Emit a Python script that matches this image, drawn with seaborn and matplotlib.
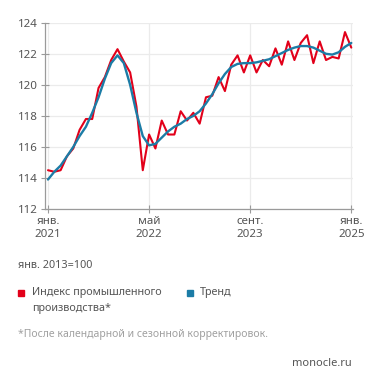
import numpy as np
import pandas as pd
import seaborn as sns
from matplotlib import pyplot as plt
from matplotlib.patches import Rectangle

# Monatsindex Jan 2021 .. Jan 2025 (0 = янв. 2021)
months = list(range(49))
index_vals = [114.5, 114.4, 114.5, 115.4, 115.9, 117.1, 117.8, 117.8, 119.8, 120.5,
              121.6, 122.3, 121.5, 120.8, 118.6, 114.5, 116.8, 115.9, 117.7, 116.8,
              116.8, 118.3, 117.7, 118.2, 117.5, 119.2, 119.3, 120.5, 119.6, 121.3,
              121.9, 120.8, 121.9, 120.8, 121.6, 121.2, 122.35, 121.3, 122.8, 121.6,
              122.7, 123.2, 121.4, 122.8, 121.6, 121.8, 121.7, 123.4, 122.4]
trend_vals = [113.9, 114.4, 114.8, 115.4, 116.0, 116.7, 117.3, 118.2, 119.2, 120.4,
              121.4, 121.9, 121.4, 120.0, 118.2, 116.7, 116.1, 116.2, 116.6, 117.0,
              117.3, 117.5, 117.8, 118.0, 118.3, 118.8, 119.4, 120.1, 120.7, 121.15,
              121.35, 121.4, 121.4, 121.45, 121.55, 121.65, 121.85, 122.05, 122.25, 122.4,
              122.5, 122.5, 122.4, 122.2, 122.0, 121.95, 122.1, 122.45, 122.7]
tick_pos = [0, 16, 32, 48]
tick_labels = ["янв.\n2021", "май\n2022", "сент.\n2023", "янв.\n2025"]
y_ticks = [112, 114, 116, 118, 120, 122, 124]

red = "#e2001a"
blue = "#1c7ca6"

sns.set_style("whitegrid")
plt.rcParams['font.family'] = ['Noto Sans', 'DejaVu Sans']

df = pd.DataFrame({"m": months, "idx": index_vals, "trend": trend_vals})

fig = plt.figure(figsize=(3.71, 3.86), dpi=100)
ax = fig.add_axes([0.12, 0.4585, 0.832, 0.4825])

sns.lineplot(data=df, x="m", y="idx", color=red, linewidth=1.5, ax=ax)
sns.lineplot(data=df, x="m", y="trend", color=blue, linewidth=1.7, ax=ax)

ax.set_xlim(-0.55, 48.3)
ax.set_ylim(112, 124)
ax.set_xticks(tick_pos)
ax.set_xticklabels(tick_labels)
ax.set_yticks(y_ticks)
ax.set_xlabel("")
ax.set_ylabel("")
ax.grid(True, color="#ebebeb", linewidth=0.9)
for s in ["top", "right"]:
    ax.spines[s].set_visible(False)
for s in ["left", "bottom"]:
    ax.spines[s].set_visible(True)
    ax.spines[s].set_color("#9a9a9a")
    ax.spines[s].set_linewidth(0.9)
ax.tick_params(axis="both", length=4, width=0.8, color="#9a9a9a",
               labelsize=8.3, labelcolor="#555555", pad=2)
ax.tick_params(axis="x", bottom=True, direction="inout", length=6)
ax.tick_params(axis="y", left=True, direction="inout", length=6)

# Texte unten
txt = dict(fontsize=7.8, color="#555555", va="center")
fig.text(18 / 371, 1 - 265 / 386, "янв. 2013=100", **txt)
fig.patches.append(Rectangle((18 / 371, 1 - 296 / 386), 6 / 371, 6 / 386,
                             transform=fig.transFigure, color=red))
fig.text(32 / 371, 1 - 293 / 386, "Индекс промышленного", **txt)
fig.text(32 / 371, 1 - 309 / 386, "производства*", **txt)
fig.patches.append(Rectangle((187 / 371, 1 - 296 / 386), 6 / 371, 6 / 386,
                             transform=fig.transFigure, color=blue))
fig.text(200 / 371, 1 - 293 / 386, "Тренд", **txt)
fig.text(18 / 371, 1 - 335 / 386, "*После календарной и сезонной корректировок.",
         fontsize=7.5, color="#a0a0a0", va="center")
fig.text(352 / 371, 1 - 363 / 386, "monocle.ru", fontsize=8, color="#555555",
         va="center", ha="right")

fig.savefig("out.png", dpi=100)
